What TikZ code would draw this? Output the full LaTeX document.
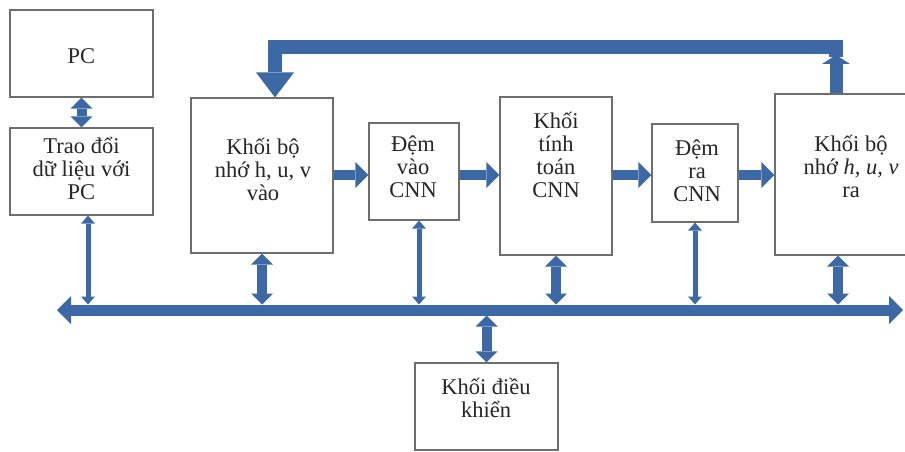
\documentclass[tikz,border=0pt]{standalone}
\usepackage{fontspec}
\setmainfont{Liberation Serif}
\usetikzlibrary{arrows.meta,calc}
\definecolor{ablue}{RGB}{60,105,165}
\definecolor{bgray}{RGB}{110,110,110}
\tikzset{
  box/.style={draw=bgray,line width=1.2pt,fill=white,inner sep=0pt},
  txt/.style={font=\fontsize{22.5}{23}\selectfont,align=center,text=black!85,inner sep=0pt},
  hfat/.style={draw=ablue,line width=10pt,-{Triangle[length=13pt,width=26pt,line width=0pt]}},
  vfat/.style={draw=ablue,line width=10pt,{Triangle[length=11pt,width=22pt,line width=0pt]}-{Triangle[length=11pt,width=22pt,line width=0pt]}},
  vthin/.style={draw=ablue,line width=5pt,{Triangle[length=8pt,width=14pt,line width=0pt]}-{Triangle[length=8pt,width=14pt,line width=0pt]}},
  busarr/.style={draw=ablue,line width=11pt,{Triangle[length=14pt,width=28pt,line width=0pt]}-{Triangle[length=14pt,width=28pt,line width=0pt]}},
  fbbar/.style={draw=ablue,line width=14pt,line join=miter,-{Triangle[length=25pt,width=38pt,line width=0pt]}},
  fbup/.style={draw=ablue,line width=13pt,-{Triangle[length=9pt,width=28pt,line width=0pt]}}
}
\begin{document}
\begin{tikzpicture}[x=1pt,y=-1pt]
\useasboundingbox (0,0) rectangle (905,452);
\clip (0,0) rectangle (905,452);
\fill[white] (0,0) rectangle (905,452);

% boxes
\node[box,minimum width=143pt,minimum height=87pt] (pc) at (81.5,53.5) {};
\node[box,minimum width=143pt,minimum height=87pt] (trao) at (81.5,171.5) {};
\node[box,minimum width=142pt,minimum height=155pt] (vao) at (262,175.5) {};
\node[box,minimum width=90pt,minimum height=97pt] (demvao) at (414,171.5) {};
\node[box,minimum width=112pt,minimum height=158pt] (tinh) at (556,176) {};
\node[box,minimum width=86pt,minimum height=98pt] (demra) at (695,173) {};
\node[box,minimum width=152pt,minimum height=161pt] (ra) at (851,174.5) {};
\node[box,minimum width=143pt,minimum height=87pt] (dk) at (486.5,406.5) {};

% texts
\node[txt] (pct) at (81.5,56) {PC};
\node[txt] (traot) at (81.5,168) {Trao đổi\\dữ liệu với\\PC};
\node[txt] (vaot) at (263,169) {Khối bộ\\nhớ h, u, v\\vào};
\node[txt] (demvaot) at (413,167) {Đệm\\vào\\CNN};
\node[txt] (tinht) at (556,155) {Khối\\tính\\toán\\CNN};
\node[txt] (demrat) at (697,171) {Đệm\\ra\\CNN};
\node[txt] (rat) at (851,166) {Khối bộ\\nhớ \textit{h, u, v}\\ra};
\node[txt] (dkt) at (486,398) {Khối điều\\khiển};

% helper coordinates
\coordinate (hy) at (0,175);
\coordinate (busT) at (0,304.5);
\coordinate (busB) at (0,315.5);
\coordinate (busL) at (57,310);
\coordinate (busR) at (903,310);
\coordinate (fbR) at (836,47);
\coordinate (fbL) at (275,47);
\coordinate (fbS) at (836,57);
\coordinate (fbRb) at (836,55);

% PC <-> trao doi
\draw[vfat] (pc.south) -- (trao.north);

% verticals to bus
\coordinate (c1) at ([xshift=6.5pt]trao.south);
\draw[vthin] (c1) -- (c1 |- busT);
\draw[vfat] (vao.south) -- (vao.south |- busT);
\coordinate (c2) at ([xshift=5pt]demvao.south);
\draw[vthin] (c2) -- (c2 |- busT);
\draw[vfat] (tinh.south) -- (tinh.south |- busT);
\draw[vthin] (demra.south) -- (demra.south |- busT);
\coordinate (c3) at ([xshift=-13pt]ra.south);
\draw[vfat] (c3) -- (c3 |- busT);
\draw[vfat] (dk.north |- busB) -- (dk.north);

% bus
\draw[busarr] (busL) -- (busR);

% horizontal data flow
\draw[hfat] (vao.east |- hy) -- (demvao.west |- hy);
\draw[hfat] (demvao.east |- hy) -- (tinh.west |- hy);
\draw[hfat] (tinh.east |- hy) -- (demra.west |- hy);
\draw[hfat] (demra.east |- hy) -- (ra.west |- hy);

% feedback
\draw[fbup] (fbR |- ra.north) -- (fbRb);
\draw[fbbar] (fbS) -- (fbR) -- (fbL) -- (fbL |- vao.north);
\end{tikzpicture}
\end{document}
